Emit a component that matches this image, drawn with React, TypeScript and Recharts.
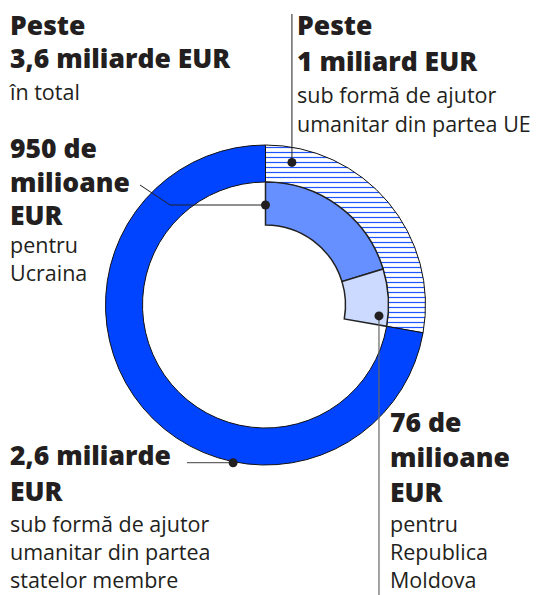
import { PieChart, Pie, Cell } from "recharts";

// Ajutor umanitar (miliarde EUR), inel exterior, în sensul acelor de ceasornic de la ora 12
const outerNames = ["Ajutor UE", "State membre"];
const outerValues = [1.0, 2.6];

// Defalcarea ajutorului UE (milioane EUR); ponderi desenate
const innerNames = ["Ucraina", "Republica Moldova"];
const innerAmounts = [950, 76];
const innerShares = [73, 27];

const W = 537;
const H = 595;
const CX = 265.5;
const CY = 305;
const R_OUT = 160;
const R_MID = 123;
const R_IN = 80;

const BLUE = "#0044ff";
const MID_BLUE = "#6690ff";
const LIGHT_BLUE = "#ccdaff";
const INK = "#231f20";
const FONT = "'Open Sans', sans-serif";

const outerData = outerNames.map((name, i) => ({ name, value: outerValues[i] }));
const innerData = innerNames.map((name, i) => ({ name, amount: innerAmounts[i], value: innerShares[i] }));
const outerFills = ["url(#hatch)", BLUE];
const innerFills = [MID_BLUE, LIGHT_BLUE];

const total = outerValues.reduce((a, b) => a + b, 0);
const euEndAngle = 90 - (360 * outerValues[0]) / total;

// unghi în grade măsurat de la ora 12, în sensul acelor
function polar(r: number, deg: number) {
  const a = (deg * Math.PI) / 180;
  return { x: CX + r * Math.sin(a), y: CY - r * Math.cos(a) };
}

type Line = { text: string; bold?: boolean; y: number };
type Block = { x: number; lines: Line[] };

const blocks: Block[] = [
  {
    x: 10,
    lines: [
      { text: "Peste", bold: true, y: 35 },
      { text: "3,6 miliarde EUR", bold: true, y: 68 },
      { text: "în total", y: 100 },
    ],
  },
  {
    x: 297,
    lines: [
      { text: "Peste", bold: true, y: 35 },
      { text: "1 miliard EUR", bold: true, y: 71 },
      { text: "sub formă de ajutor", y: 103 },
      { text: "umanitar din partea UE", y: 132 },
    ],
  },
  {
    x: 10,
    lines: [
      { text: "950 de", bold: true, y: 158 },
      { text: "milioane", bold: true, y: 192 },
      { text: "EUR", bold: true, y: 225 },
      { text: "pentru", y: 253 },
      { text: "Ucraina", y: 281 },
    ],
  },
  {
    x: 390,
    lines: [
      { text: "76 de", bold: true, y: 432 },
      { text: "milioane", bold: true, y: 467 },
      { text: "EUR", bold: true, y: 502 },
      { text: "pentru", y: 532 },
      { text: "Republica", y: 560 },
      { text: "Moldova", y: 588 },
    ],
  },
  {
    x: 10,
    lines: [
      { text: "2,6 miliarde", bold: true, y: 465 },
      { text: "EUR", bold: true, y: 501 },
      { text: "sub formă de ajutor", y: 532 },
      { text: "umanitar din partea", y: 560 },
      { text: "statelor membre", y: 588 },
    ],
  },
];

function Callouts() {
  const eu = polar(145, 10.5);
  const ua = polar(100, 0);
  const md = polar(114, 95.5);
  const ms = polar(161, 191.6);
  return (
    <svg width={W} height={H} style={{ position: "absolute", left: 0, top: 0, pointerEvents: "none" }}>
      <polyline points={`${eu.x},14 ${eu.x},${eu.y}`} fill="none" stroke={INK} strokeWidth={1} />
      <polyline points={`140,185 170,${ua.y} ${ua.x},${ua.y}`} fill="none" stroke={INK} strokeWidth={1} />
      <polyline points={`${md.x},${md.y} ${md.x},${H}`} fill="none" stroke="#666" strokeWidth={1.2} />
      <polyline points={`187,${ms.y} ${ms.x},${ms.y}`} fill="none" stroke="#666" strokeWidth={1.2} />
      {[eu, ua, md, ms].map((p, i) => (
        <circle key={i} cx={p.x} cy={p.y} r={4.5} fill={INK} />
      ))}
      {blocks.map((b, bi) =>
        b.lines.map((l, li) => (
          <text
            key={`${bi}-${li}`}
            x={b.x}
            y={l.y}
            fill={INK}
            fontFamily={FONT}
            fontWeight={l.bold ? 800 : 400}
            fontSize={l.bold ? 26.5 : 21.5}
          >
            {l.text}
          </text>
        ))
      )}
    </svg>
  );
}

export default function App() {
  return (
    <div style={{ position: "absolute", left: 0, top: 0, width: W, height: H, background: "#fff" }}>
      <PieChart width={W} height={H} margin={{ top: 0, right: 0, bottom: 0, left: 0 }}>
        <defs>
          <pattern id="hatch" width={6} height={5} patternUnits="userSpaceOnUse">
            <rect width={6} height={5} fill="#fff" />
            <line x1={0} y1={2.5} x2={6} y2={2.5} stroke="#1f55ff" strokeWidth={1.2} />
          </pattern>
        </defs>
        <Pie
          data={outerData}
          dataKey="value"
          cx={CX}
          cy={CY}
          innerRadius={R_MID}
          outerRadius={R_OUT}
          startAngle={90}
          endAngle={-270}
          stroke="#111"
          strokeWidth={1}
          isAnimationActive={false}
        >
          {outerData.map((d, i) => (
            <Cell key={d.name} fill={outerFills[i]} />
          ))}
        </Pie>
        <Pie
          data={innerData}
          dataKey="value"
          cx={CX}
          cy={CY}
          innerRadius={R_IN}
          outerRadius={R_MID}
          startAngle={90}
          endAngle={euEndAngle}
          stroke="#222"
          strokeWidth={1.5}
          isAnimationActive={false}
        >
          {innerData.map((d, i) => (
            <Cell key={d.name} fill={innerFills[i]} />
          ))}
        </Pie>
      </PieChart>
      <Callouts />
    </div>
  );
}
